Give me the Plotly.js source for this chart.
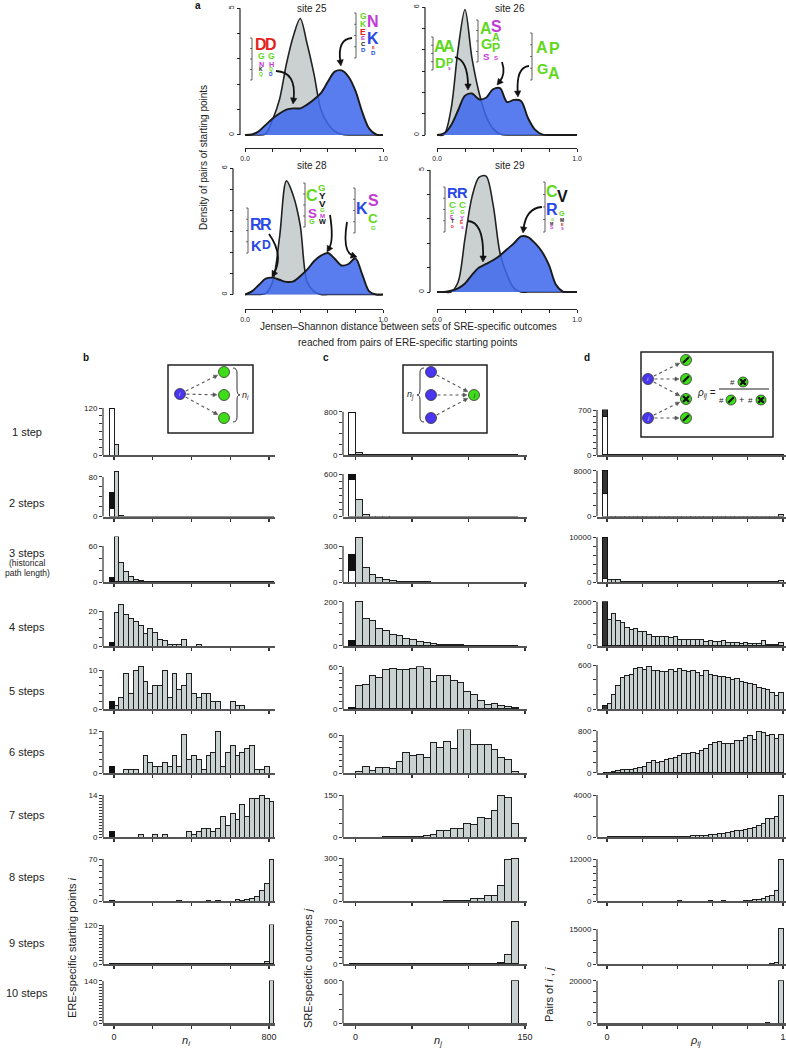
<!DOCTYPE html>
<html><head><meta charset="utf-8">
<script src="https://cdn.plot.ly/plotly-3.0.1.min.js"></script>
<style>body{margin:0;background:#fff}#chart{width:786px;height:1050px}</style>
</head><body><div id="chart"></div>
<script>
const W = 786, H = 1050;
const FONT = 'Liberation Sans, Arial, sans-serif';

// ---------------- Panel a: density curves (Jensen–Shannon distance) ----------------
const jsdGrid = [0,0.05,0.1,0.15,0.2,0.25,0.3,0.35,0.4,0.45,0.5,0.55,0.6,0.65,0.7,0.75,0.8,0.85,0.9,0.95,1];
const site25Null = [0,0,0,0.05,0.6,1.4,2.8,3.9,4.6,3.6,2.4,1.0,0.45,0.15,0.03,0,0,0,0,0,0];
const site25Obs  = [0,0.02,0.15,0.4,0.65,0.85,1.0,1.05,1.05,1.2,1.4,1.65,2.1,2.5,2.55,2.3,1.75,0.9,0.25,0.02,0];
const site26Null = [0,0.02,1.2,4.0,5.9,3.6,2.0,0.9,0.3,0.05,0,0,0,0,0,0,0,0,0,0,0];
const site26Obs  = [0,0.08,0.45,1.15,1.85,1.95,1.68,1.75,2.15,2.2,1.55,1.65,1.6,0.8,0.25,0.03,0,0,0,0,0];
const site28Null = [0,0,0,0.05,0.6,2.7,5.4,4.7,3.3,0.6,0.15,0,0,0,0,0,0,0,0,0,0];
const site28Obs  = [0,0.15,0.45,0.75,0.8,0.7,0.6,0.62,0.87,1.18,1.58,1.85,1.97,1.7,1.38,1.45,1.72,0.95,0.15,0,0];
const site29Null = [0,0,0,0.4,2.2,3.9,4.7,4.75,3.6,1.6,0.7,0.15,0,0,0,0,0,0,0,0,0];
const site29Obs  = [0,0,0.05,0.15,0.35,0.7,1.0,1.15,1.3,1.5,1.75,2.0,2.28,2.25,2.0,1.65,1.1,0.3,0.02,0,0];
const siteNames  = ['site 25','site 26','site 28','site 29'];
const siteYTop   = [5,6,6,5];

// ---------------- Panels b-d: histograms ----------------
const stepNames = ['1 step','2 steps','3 steps','4 steps','5 steps','6 steps','7 steps','8 steps','9 steps','10 steps'];

// b: n_i (bins of 25), first bar = special (white + black)
const bWhite = [118,17,0,0,0,0,0,0,0,0];
const bBlack = [0,32,7,2,2,2,2,1,0,0];
const bCounts = [
 [28,0,0,0,0,0,0,0,0,0,0,0,0,0,0,0,0,0,0,0,0,0,0,0,0,0,0,0,0,0,0,0,0],
 [91,3,0,0,0,0,0,0,0,0,0,0,0,0,0,0,0,0,0,0,0,0,0,0,0,0,0,0,0,0,0,0,0],
 [75,32,17,9,4,2,0,1,1,0,0,0,0,0,0,0,0,0,0,0,0,0,0,0,0,0,0,0,0,0,0,0,0],
 [19,24,18,16,14,12,7,10,8,4,3,1,1,1,4,0,0,1,0,0,0,0,0,0,0,0,0,0,0,0,0,0,0],
 [1,3,9,4,10,11,7,4,6,6,10,3,9,5,6,9,4,3,4,4,2,2,0,0,2,1,1,0,0,0,0,0,0],
 [0,0,1,1,1,0,5,3,2,2,3,2,5,2,11,4,5,4,1,5,6,12,2,6,8,5,6,7,8,1,1,2,0],
 [0,0,0,0,0,1,0,0,1,0,1,0,0,0,0,2,1,2,3,3,2,3,7,4,8,6,11,7,13,13,14,13,12],
 [0,0,0,0,0,0,0,0,0,0,0,0,0,1,0,0,0,0,0,1,0,1,0,0,0,2,1,2,4,8,18,30,70],
 [0,0,0,0,0,0,0,0,0,0,0,0,0,0,0,0,0,0,0,0,0,0,0,1,0,0,0,0,0,1,1,8,120],
 [0,0,0,0,0,0,0,0,0,0,0,0,0,0,0,0,0,0,0,0,0,0,0,0,0,0,0,0,0,0,0,0,140]
];
const bYMax = [120,80,60,20,10,12,14,70,120,140];
const bYStep = [20,20,20,5,2,2,1,10,10,10];

// c: n_j (bins of 6)
const cWhite = [788,516,98,0,0,0,0,0,0,0];
const cBlack = [0,70,132,23,2,0,0,0,0,0];
const cCounts = [
 [43,5,3,2,1,1,1,0,0,0,0,0,0,0,0,0,0,0,0,0,0,0,0,0],
 [235,23,5,2,1,0,0,0,0,0,0,0,0,0,0,0,0,0,0,0,0,0,0,0],
 [372,118,62,36,20,11,6,3,2,1,1,0,0,0,0,0,0,0,0,0,0,0,0,0],
 [203,126,115,77,72,54,46,35,28,20,14,11,8,6,6,5,3,2,1,1,1,0,0,0],
 [33,35,48,44,56,58,56,56,58,60,57,39,47,47,40,38,25,20,12,6,8,5,3,2],
 [3,10,4,8,9,7,18,33,27,30,25,48,40,50,38,68,68,45,45,45,37,24,22,3],
 [0,0,0,0,3,2,2,1,3,3,5,10,25,22,32,30,50,45,68,65,95,150,140,50],
 [0,0,0,0,0,0,0,0,0,0,0,0,0,2,2,4,5,15,18,38,40,105,290,300],
 [0,0,0,0,0,0,0,0,0,0,0,0,0,0,0,0,0,0,0,0,5,20,147,690],
 [0,0,0,0,0,0,0,0,0,0,0,0,0,0,0,0,0,0,0,0,0,0,0,600]
];
const cYMax = [800,600,300,200,60,60,150,300,700,600];
const cYStep = [200,100,100,50,10,10,50,50,100,200];

// d: rho_ij (bins of 0.025)
const dWhite = [600,4000,700,0,0,0,0,0,0,0];
const dBlack = [100,4100,9300,2000,50,0,0,0,0,0];
const dCounts = [
 [4,2,1,1,0,0,0,0,0,0, 0,0,0,0,0,0,0,0,0,0, 0,0,0,0,0,0,0,0,0,0, 0,0,0,0,0,0,0,0,0,2],
 [60,40,30,20,20,15,10,10,10,10, 30,10,10,10,20,10,10,10,10,20, 10,10,10,10,20,10,10,10,10,10, 10,10,20,10,10,10,10,10,10,300],
 [500,450,450,200,150,150,120,100,100,100, 120,100,80,80,100,80,60,60,60,120, 60,60,60,60,60,120,60,60,60,60, 60,120,60,60,60,60,60,60,60,300],
 [1200,1460,1150,1050,830,750,800,650,650,500, 450,450,430,450,380,430,280,300,280,300, 280,280,200,250,200,200,250,150,150,150, 120,150,120,100,120,250,80,60,70,150],
 [80,200,320,430,460,470,550,560,540,580, 530,520,510,510,540,510,550,520,510,520, 500,460,520,470,460,450,440,430,400,420, 380,360,350,330,290,280,260,220,180,220],
 [5,20,40,60,70,60,80,110,120,190, 230,200,210,250,270,300,330,370,370,380, 370,430,470,530,580,600,560,560,560,620, 620,680,700,640,780,760,700,720,660,720],
 [30,40,50,40,40,50,60,40,50,60, 50,60,40,60,80,50,60,50,80,100, 120,150,180,200,250,300,350,420,500,600, 650,700,800,900,1100,1300,1750,1750,2000,4000],
 [0,0,0,0,0,0,0,0,0,0, 0,0,0,0,0,0,50,0,0,0, 0,0,0,50,0,0,50,0,0,0, 0,100,200,300,500,600,1400,1500,3100,12000],
 [0,0,0,0,0,0,0,0,0,0, 0,0,0,0,0,0,0,0,0,0, 0,0,0,0,0,0,0,0,0,0, 0,0,0,0,0,0,0,100,600,15500],
 [0,0,0,0,0,0,0,0,0,0, 0,0,0,0,0,0,0,0,0,0, 0,0,0,0,0,0,0,0,0,0, 0,0,0,0,0,0,300,0,0,20000]
];
const dYMax = [700,8000,10000,2000,600,800,4000,12000,15000,20000];
const dYStep = [100,2000,2000,500,200,200,2000,2000,5000,5000];

// ---------------- helpers ----------------
const P = x => x / W, Q = y => 1 - y / H;
const axName = (n, k) => k + 'axis' + (n === 1 ? '' : n);
const axRef = (n, k) => k + (n === 1 ? '' : n);
function pathPx(s) {
  const t = s.trim().split(/\s+/); const out = []; let isX = true;
  for (const tok of t) {
    if (/^[A-Za-z]$/.test(tok)) { out.push(tok); isX = true; }
    else { const v = parseFloat(tok); out.push(isX ? P(v).toFixed(5) : Q(v).toFixed(5)); isX = !isX; }
  }
  return out.join(' ');
}
const layout = {
  width: W, height: H, margin: {l:0, r:0, t:0, b:0},
  paper_bgcolor: '#fff', plot_bgcolor: 'rgba(0,0,0,0)',
  showlegend: false, barmode: 'stack',
  font: {family: FONT, color: '#222', size: 9},
  shapes: [], annotations: []
};
const traces = [];
const S = layout.shapes, A = layout.annotations;
function txt(x, y, text, o = {}) {
  A.push(Object.assign({x: P(x), y: Q(y), xref: 'paper', yref: 'paper', text: text, showarrow: false,
    xanchor: 'center', yanchor: 'middle', font: {family: FONT, size: 10, color: '#222'}}, o));
}
// filled triangular arrowhead with tip at (x, y) pointing along (dx, dy)
function head(x, y, dx, dy, len, half, col) {
  const n = Math.hypot(dx, dy), ux = dx / n, uy = dy / n, bx = x - ux * len, by = y - uy * len;
  S.push({type: 'path', xref: 'paper', yref: 'paper',
    path: pathPx(`M ${x} ${y} L ${bx - uy * half} ${by + ux * half} L ${bx + uy * half} ${by - ux * half} Z`),
    fillcolor: col, line: {color: col, width: 0.5}});
}
function minorTicks(vals, len, col) { return {tickmode: 'array', tickvals: vals, ticks: 'outside', ticklen: len, tickcolor: col, showgrid: false}; }

// ---------------- Panel a ----------------
const siteGeom = [
  {xL:245, xR:383, y0:135, yTopPix:8.3, hi:5.1, yAx:240, xAx:148, tx:312, ty:8},
  {xL:437, xR:577, y0:135, yTopPix:7.3, hi:6.3, yAx:425, xAx:148, tx:510, ty:8},
  {xL:245, xR:383, y0:294.5, yTopPix:168.3, hi:6.0, yAx:233, xAx:309, tx:312, ty:165},
  {xL:437, xR:577, y0:292, yTopPix:170, hi:5.1, yAx:430, xAx:309, tx:510, ty:165}
];
const siteNull = [site25Null, site26Null, site28Null, site29Null];
const siteObs = [site25Obs, site26Obs, site28Obs, site29Obs];
siteGeom.forEach((g, i) => {
  const n = i + 1, yTop = siteYTop[i];
  const ppu = (g.y0 - g.yTopPix) / yTop, lo = -0.08;
  const tv = [];
  for (let v = 0; v <= yTop; v++) tv.push(v);
  layout[axName(n, 'x')] = {domain: [P(g.xL), P(g.xR)], range: [0, 1], anchor: 'free', position: Q(g.xAx),
    showline: true, linecolor: '#222', linewidth: 1.2, ticks: 'outside', ticklen: 3, tickcolor: '#222',
    tickvals: [0, 1], ticktext: ['0.0', '1.0'], tickfont: {size: 7, color: '#222'},
    minor: minorTicks([0.2, 0.4, 0.6, 0.8], 3, '#222'),
    showgrid: false, zeroline: false, fixedrange: true};
  layout[axName(n, 'y')] = {domain: [Q(g.y0 + (-lo) * ppu), Q(g.y0 - g.hi * ppu)], range: [lo, g.hi],
    anchor: 'free', position: P(g.yAx), showline: false, ticks: 'outside', ticklen: 3, tickcolor: '#222',
    tickvals: [0, yTop], ticktext: ['0', String(yTop)], tickangle: -90, tickfont: {size: 7, color: '#222'},
    minor: minorTicks(tv, 3, '#222'), showgrid: false, zeroline: false, fixedrange: true};
  traces.push({type: 'scatter', mode: 'lines', x: jsdGrid, y: siteNull[i], xaxis: axRef(n, 'x'), yaxis: axRef(n, 'y'),
    line: {shape: 'spline', smoothing: 0.9, color: '#222', width: 1.6}, fill: 'tozeroy', fillcolor: '#cbd1d0', hoverinfo: 'skip'});
  traces.push({type: 'scatter', mode: 'lines', x: jsdGrid, y: siteObs[i], xaxis: axRef(n, 'x'), yaxis: axRef(n, 'y'),
    line: {shape: 'spline', smoothing: 0.9, color: '#1a1a1a', width: 1.9}, fill: 'tozeroy', fillcolor: 'rgba(62,104,236,0.86)', hoverinfo: 'skip'});
  S.push({type: 'line', xref: 'paper', x0: P(g.yAx), x1: P(g.yAx), yref: axRef(n, 'y'), y0: 0, y1: yTop, line: {color: '#222', width: 1.2}});
  txt(g.tx, g.ty, siteNames[i], {font: {family: FONT, size: 10, color: '#222'}});
});
txt(198, 6, '<b>a</b>', {font: {family: FONT, size: 10, color: '#111'}});
txt(204, 158, 'Density of pairs of starting points', {textangle: -90, font: {family: FONT, size: 10, color: '#222'}});
txt(408, 327, 'Jensen–Shannon distance between sets of SRE-specific outcomes', {font: {family: FONT, size: 10, color: '#222'}});
txt(408, 342, 'reached from pairs of ERE-specific starting points', {font: {family: FONT, size: 10, color: '#222'}});

// sequence logos (decorative insets)
const cR = '#e2231a', cG = '#62d81c', cP = '#c23bd4', cB = '#2747e6', cK = '#111';
const logos = [
  {ax: 252, t: 38, b: 80, cols: [
    {x: 261, L: [['D',cR,38,52],['G',cG,53,60],['N',cP,61,67],['K',cK,68,72],['Q',cG,73,77]]},
    {x: 271, L: [['D',cR,38,52],['G',cG,53,60],['H',cP,61,67],['Q',cG,68,72],['D',cB,73,77]]}]},
  {ax: 356, t: 13, b: 58, cols: [
    {x: 363, L: [['G',cG,13,20],['K',cG,20,27],['E',cR,28,35],['E',cP,35,40],['C',cK,41,46],['D',cB,47,52]]},
    {x: 373, L: [['N',cP,13,31],['K',cB,32,45],['E',cR,46,49],['D',cB,50,55]]}]},
  {ax: 433, t: 37, b: 70, cols: [
    {x: 440, L: [['A',cG,37,56],['D',cG,57,69]]},
    {x: 449, L: [['A',cG,37,56],['P',cG,57,66],['S',cP,67,70]]}]},
  {ax: 478, t: 20, b: 62, cols: [
    {x: 486, L: [['A',cG,20,37],['G',cG,38,50],['S',cP,52,60]]},
    {x: 496, L: [['S',cP,20,33],['A',cG,33,42],['P',cG,43,53],['S',cP,55,60]]}]},
  {ax: 532, t: 33, b: 80, cols: [
    {x: 542, L: [['A',cG,33,62],['G',cG,63,75]]},
    {x: 554, L: [['P',cG,33,65],['A',cG,66,80]]}]},
  {ax: 248, t: 208, b: 253, cols: [
    {x: 256, L: [['R',cB,208,240],['K',cB,240,252]]},
    {x: 266, L: [['R',cB,208,240],['D',cB,240,250]]}]},
  {ax: 305, t: 183, b: 227, cols: [
    {x: 312, L: [['C',cG,183,208],['S',cP,208,219],['G',cG,219,225]]},
    {x: 322, L: [['G',cG,183,191],['Y',cK,191,199],['V',cK,199,207],['G',cG,207,212],['M',cP,213,218],['W',cK,219,225]]}]},
  {ax: 355, t: 188, b: 233, cols: [
    {x: 362, L: [['K',cB,188,230]]},
    {x: 373, L: [['S',cP,188,212],['C',cG,213,224],['G',cG,225,230]]}]},
  {ax: 445, t: 187, b: 232, cols: [
    {x: 452, L: [['R',cB,187,199],['C',cG,200,208],['S',cG,209,214],['E',cP,215,219],['T',cK,220,224],['D',cR,225,228]]},
    {x: 462, L: [['R',cB,187,199],['C',cG,200,208],['G',cG,209,214],['Y',cP,215,220],['E',cR,221,225],['S',cP,226,229]]}]},
  {ax: 545, t: 182, b: 232, cols: [
    {x: 552, L: [['C',cG,183,201],['R',cB,202,217],['G',cG,218,221],['M',cK,222,225],['S',cP,226,230]]},
    {x: 562, L: [['V',cK,183,210],['G',cG,211,217],['M',cK,218,222],['E',cR,223,226],['S',cP,227,230]]}]}
];
logos.forEach(lg => {
  S.push({type: 'line', xref: 'paper', yref: 'paper', x0: P(lg.ax), x1: P(lg.ax), y0: Q(lg.t), y1: Q(lg.b), line: {color: '#333', width: 0.8}});
  for (let k = 0; k <= 4; k++) {
    const yy = lg.t + (lg.b - lg.t) * k / 4;
    S.push({type: 'line', xref: 'paper', yref: 'paper', x0: P(lg.ax - 2), x1: P(lg.ax), y0: Q(yy), y1: Q(yy), line: {color: '#333', width: 0.7}});
  }
  lg.cols.forEach(c => c.L.forEach(([ch, col, y0, y1]) => {
    const h = y1 - y0; const fs = Math.max(4, Math.min(16, h / 0.82));
    txt(c.x, (y0 + y1) / 2, '<b>' + ch + '</b>', {font: {family: 'Liberation Sans Narrow, Liberation Sans, Arial', size: fs, color: col}, borderpad: 0});
  }));
});
// curved arrows from logos to density curves
const curves = [
  [276,71, 297,72, 293,104], [352,38, 337,39, 341,66],
  [455,57, 468,60, 468,90], [502,62, 506,74, 497,85], [529,66, 516,67, 518,97],
  [269,234, 284,255, 272,277], [330,215, 334,240, 327,252], [347,222, 342,252, 357,257],
  [468,221, 484,222, 483,262], [542,207, 526,208, 523,233]
];
curves.forEach(([x0,y0,cx,cy,x1,y1]) => {
  const n = Math.hypot(x1 - cx, y1 - cy), ex = x1 - (x1 - cx) / n * 4, ey = y1 - (y1 - cy) / n * 4;
  S.push({type: 'path', xref: 'paper', yref: 'paper', path: pathPx(`M ${x0} ${y0} Q ${cx} ${cy} ${ex} ${ey}`), line: {color: '#111', width: 1.8}});
  head(x1, y1, x1 - cx, y1 - cy, 6, 3.2, '#111');
});

// ---------------- Panels b-d ----------------
const rowBase = [455,516.5,582,646,709,773,837,901,964,1023.5];
const panels = [
  {white: bWhite, black: bBlack, counts: bCounts, yMax: bYMax, yStep: bYStep, binW: 25, first: 12.5,
   px0: 114, px1: 269, v1: 800, dom: [103, 275], xt: [0,800], xm: [200,400,600], xl: ['0','800'],
   top: [408,477,546,611,670,731,795,859,925,981], blackCol: '#111'},
  {white: cWhite, black: cBlack, counts: cCounts, yMax: cYMax, yStep: cYStep, binW: 6, first: 3,
   px0: 355.5, px1: 525, v1: 150, dom: [343, 527], xt: [0,150], xm: [50,100], xl: ['0','150'],
   top: [411.7,474,546,601.7,666.7,735,795,858,920.7,980.7], blackCol: '#111'},
  {white: dWhite, black: dBlack, counts: dCounts, yMax: dYMax, yStep: dYStep, binW: 0.025, first: 0.0125,
   px0: 607, px1: 783, v1: 1, dom: [597, 786], xt: [0,1], xm: [0.2,0.4,0.6,0.8], xl: ['0','1'],
   top: [410,470.7,537.3,601.7,665,730.7,795,859.3,929.3,980.7], blackCol: '#333'}
];
panels.forEach((p, pi) => {
  const upp = p.v1 / (p.px1 - p.px0);
  const xlo = (p.dom[0] - p.px0) * upp, xhi = (p.dom[1] - p.px0) * upp;
  for (let r = 0; r < 10; r++) {
    const n = 5 + pi * 10 + r;
    const cnt = p.counts[r];
    const centers = cnt.map((_, k) => p.first + k * p.binW);
    const ymax = p.yMax[r], base = rowBase[r];
    const ppu = (base - p.top[r]) / ymax;
    const dataMax = Math.max(...cnt, p.white[r] + p.black[r]);
    const hi = Math.max(ymax, dataMax) * 1.01;
    const tv = [];
    for (let v = 0; v <= ymax + 1e-9; v += p.yStep[r]) tv.push(v);
    layout[axName(n, 'x')] = {domain: [P(p.dom[0]), P(p.dom[1])], range: [xlo, xhi], anchor: axRef(n, 'y'),
      showline: true, linecolor: '#555', linewidth: 2.4, ticks: 'outside', ticklen: 3, tickwidth: 1.2, tickcolor: '#333',
      tickvals: p.xt, ticktext: p.xl, showticklabels: r === 9, tickfont: {size: 9, color: '#222'},
      minor: Object.assign(minorTicks(p.xm, 3, '#333'), {tickwidth: 1.2}),
      showgrid: false, zeroline: false, fixedrange: true};
    layout[axName(n, 'y')] = {domain: [Q(base), Q(base - hi * ppu)], range: [0, hi], anchor: axRef(n, 'x'),
      showline: false, ticks: 'outside', ticklen: 3, tickwidth: 1, tickcolor: '#333',
      tickvals: [0, ymax], ticktext: ['0', String(ymax)], tickfont: {size: 8, color: '#222'},
      minor: minorTicks(tv, 3, '#333'), showgrid: false, zeroline: false, fixedrange: true};
    S.push({type: 'line', xref: axRef(n, 'x') + ' domain', x0: 0, x1: 0, yref: axRef(n, 'y'), y0: 0, y1: ymax, line: {color: '#333', width: 1.2}});
    traces.push({type: 'bar', x: centers, y: cnt, width: p.binW, xaxis: axRef(n, 'x'), yaxis: axRef(n, 'y'),
      marker: {color: '#c9d2d0', line: {color: '#1e1e1e', width: 1}}, hoverinfo: 'skip'});
    traces.push({type: 'bar', x: [p.first - p.binW], y: [p.white[r]], width: p.binW, xaxis: axRef(n, 'x'), yaxis: axRef(n, 'y'),
      marker: {color: '#ffffff', line: {color: '#1e1e1e', width: 1}}, hoverinfo: 'skip'});
    traces.push({type: 'bar', x: [p.first - p.binW], y: [p.black[r]], width: p.binW, xaxis: axRef(n, 'x'), yaxis: axRef(n, 'y'),
      marker: {color: p.blackCol, line: {color: '#111', width: 1}}, hoverinfo: 'skip'});
  }
});

// row labels
const rowLabelY = [432,503,553,627,691,752,815,877,943,993];
stepNames.forEach((s, r) => txt(27, rowLabelY[r], s, {font: {family: FONT, size: 11, color: '#222'}}));
txt(27, 563, '(historical', {font: {family: FONT, size: 8.5, color: '#222'}});
txt(27, 573, 'path length)', {font: {family: FONT, size: 8.5, color: '#222'}});

// panel letters, axis titles
txt(86, 357, '<b>b</b>', {font: {family: FONT, size: 10, color: '#111'}});
txt(326, 357, '<b>c</b>', {font: {family: FONT, size: 10, color: '#111'}});
txt(587, 357, '<b>d</b>', {font: {family: FONT, size: 10, color: '#111'}});
txt(72, 948, 'ERE-specific starting points <i>i</i>', {textangle: -90, font: {family: FONT, size: 11, color: '#222'}});
txt(308, 968, 'SRE-specific outcomes <i>j</i>', {textangle: -90, font: {family: FONT, size: 11, color: '#222'}});
txt(549, 995, 'Pairs of <i>i</i> , <i>j</i>', {textangle: -90, font: {family: FONT, size: 11, color: '#222'}});
txt(186, 1041, '<i>n</i><sub><i>i</i></sub>', {font: {family: FONT, size: 11, color: '#222'}});
txt(438, 1041, '<i>n</i><sub><i>j</i></sub>', {font: {family: FONT, size: 11, color: '#222'}});
txt(695, 1041, '<i>ρ</i><sub><i>ij</i></sub>', {font: {family: FONT, size: 11, color: '#222'}});

// ---------------- inset diagrams ----------------
const BLUE = '#4a36ef', GREEN = '#3fdc18';
function box(x0, y0, x1, y1) { S.push({type: 'rect', xref: 'paper', yref: 'paper', x0: P(x0), x1: P(x1), y0: Q(y1), y1: Q(y0), line: {color: '#222', width: 1.5}, fillcolor: 'rgba(0,0,0,0)'}); }
function circ(cx, cy, r, fill) { S.push({type: 'circle', xref: 'paper', yref: 'paper', x0: P(cx - r), x1: P(cx + r), y0: Q(cy + r), y1: Q(cy - r), fillcolor: fill, line: {color: '#333', width: 0.8}}); }
function seg(x0, y0, x1, y1, w, col, dash) { S.push({type: 'line', xref: 'paper', yref: 'paper', x0: P(x0), x1: P(x1), y0: Q(y0), y1: Q(y1), line: {color: col, width: w, dash: dash || 'solid'}}); }
function link(a, b, r) {
  const dx = b[0] - a[0], dy = b[1] - a[1], n = Math.hypot(dx, dy), ux = dx / n, uy = dy / n;
  const sx = a[0] + ux * (r + 1), sy = a[1] + uy * (r + 1), ex = b[0] - ux * (r + 1.5), ey = b[1] - uy * (r + 1.5);
  seg(sx, sy, ex - ux * 3.5, ey - uy * 3.5, 1.1, '#555', 'dot');
  head(ex, ey, ux, uy, 4, 2, '#555');
}
function mark(cx, cy, r, kind) {
  circ(cx, cy, r, GREEN);
  if (kind === 'slash') seg(cx - r * 0.55, cy + r * 0.55, cx + r * 0.55, cy - r * 0.55, 2.2, '#111');
  if (kind === 'x') { seg(cx - r * 0.55, cy + r * 0.55, cx + r * 0.55, cy - r * 0.55, 2.2, '#111'); seg(cx - r * 0.55, cy - r * 0.55, cx + r * 0.55, cy + r * 0.55, 2.2, '#111'); }
}
// b inset
box(168, 365, 253, 433);
const bI = [180, 394], bG = [[224, 372], [224, 395], [224, 418]];
bG.forEach(g => link(bI, g, 5.5));
circ(bI[0], bI[1], 5.5, BLUE); bG.forEach(g => circ(g[0], g[1], 5.5, GREEN));
txt(bI[0], bI[1], '<i>i</i>', {font: {family: FONT, size: 6, color: '#dde'}});
S.push({type: 'path', xref: 'paper', yref: 'paper', path: pathPx('M 233 368 Q 237 368 237 373 L 237 389 Q 237 395 240 395 Q 237 395 237 400 L 237 417 Q 237 422 233 422'), line: {color: '#333', width: 1}});
txt(245, 395, '<i>n</i><sub><i>i</i></sub>', {font: {family: FONT, size: 9, color: '#222'}});
// c inset
box(403, 365, 487, 433);
const cJ = [474, 395], cI = [[431, 372], [431, 395], [431, 418]];
cI.forEach(b => link(b, cJ, 5.5));
cI.forEach(b => circ(b[0], b[1], 5.5, BLUE)); circ(cJ[0], cJ[1], 5.5, GREEN);
txt(cJ[0], cJ[1], '<i>j</i>', {font: {family: FONT, size: 6, color: '#224'}});
S.push({type: 'path', xref: 'paper', yref: 'paper', path: pathPx('M 424 368 Q 420 368 420 373 L 420 389 Q 420 395 417 395 Q 420 395 420 400 L 420 417 Q 420 422 424 422'), line: {color: '#333', width: 1}});
txt(410, 395, '<i>n</i><sub><i>j</i></sub>', {font: {family: FONT, size: 9, color: '#222'}});
// d inset
box(641, 352, 773, 437);
const dI = [648, 379], dJ = [648, 418];
const dG = [[686, 360, 'slash'], [686, 379, 'slash'], [686, 399, 'x'], [686, 418, 'slash']];
[[dI, dG[0]], [dI, dG[1]], [dI, dG[2]], [dJ, dG[2]], [dJ, dG[3]]].forEach(([a, b]) => link(a, b, 5.5));
circ(dI[0], dI[1], 5.5, BLUE); circ(dJ[0], dJ[1], 5.5, BLUE);
txt(dI[0], dI[1], '<i>i</i>', {font: {family: FONT, size: 6, color: '#dde'}});
txt(dJ[0], dJ[1], '<i>j</i>', {font: {family: FONT, size: 6, color: '#dde'}});
dG.forEach(g => mark(g[0], g[1], 5.5, g[2]));
txt(706, 393, '<i>ρ</i><sub><i>ij</i></sub> =', {font: {family: FONT, size: 10, color: '#222'}});
txt(732, 382, '#', {font: {family: FONT, size: 8, color: '#222'}});
mark(743, 382, 5, 'x');
seg(719, 389, 769, 389, 1, '#222');
txt(721, 400, '#', {font: {family: FONT, size: 8, color: '#222'}});
mark(731, 400, 5, 'slash');
txt(741, 400, '+', {font: {family: FONT, size: 9, color: '#222'}});
txt(750, 400, '#', {font: {family: FONT, size: 8, color: '#222'}});
mark(761, 400, 5, 'x');

Plotly.newPlot('chart', traces, layout, {staticPlot: true, displayModeBar: false});
</script>
</body></html>
